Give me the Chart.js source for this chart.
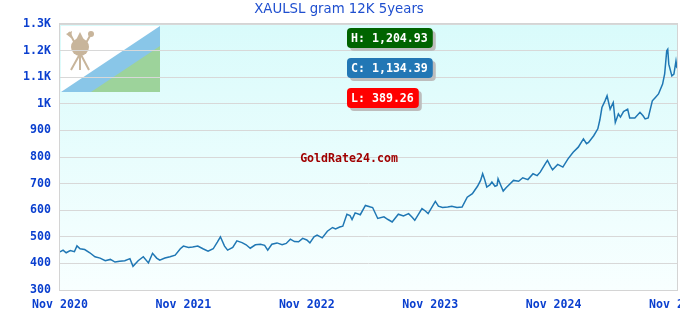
<!DOCTYPE html>
<html lang="en">
<head>
<meta charset="UTF-8">
<title>XAULSL gram 12K 5years</title>
<style>
  *{box-sizing:border-box;margin:0;padding:0}
  body{background:#fff;width:680px;height:320px;overflow:hidden}
  #wrap{position:relative;width:680px;height:320px}
</style>
</head>
<body>
<div id="wrap"><canvas id="chart" width="680" height="320"></canvas></div>

<script src="https://cdn.jsdelivr.net/npm/chart.js@4.4.0"></script>
<script>
/* x = months since Nov 2020 */
const months=[0,0.3,0.6,1.0,1.4,1.65,1.95,2.4,2.9,3.4,3.9,4.4,4.9,5.35,5.8,6.3,6.8,7.1,7.6,8.1,8.6,9.0,9.4,9.7,10.2,10.7,11.2,11.7,12.0,12.5,12.9,13.4,13.9,14.4,14.9,15.3,15.6,16.0,16.3,16.8,17.2,17.7,18.1,18.5,19.0,19.5,19.9,20.2,20.6,21.1,21.6,22.0,22.4,22.8,23.2,23.6,24.0,24.3,24.7,25.0,25.5,26.0,26.5,26.8,27.2,27.5,27.9,28.2,28.4,28.7,29.2,29.7,30.2,30.4,30.9,31.5,31.9,32.3,32.9,33.4,33.9,34.2,34.5,35.2,35.5,35.8,36.5,36.8,37.2,37.7,38.1,38.6,39.1,39.6,40.1,40.6,40.9,41.1,41.3,41.5,41.8,42.0,42.3,42.5,42.6,42.9,43.1,43.4,43.6,44.1,44.6,45.0,45.5,46.0,46.4,46.7,47.2,47.4,47.7,47.9,48.4,48.9,49.4,49.9,50.4,50.9,51.2,51.4,51.9,52.3,52.5,52.7,53.0,53.2,53.5,53.8,54.0,54.3,54.5,54.8,55.2,55.4,55.9,56.4,56.7,56.9,57.2,57.6,57.9,58.2,58.6,58.8,59.0,59.1,59.2,59.5,59.7,59.9,60.0];
const prices=[443,450,440,448,444,466,455,452,440,425,420,410,415,405,408,410,418,389,410,425,402,438,420,412,420,425,431,455,465,460,462,465,455,446,455,480,500,465,450,460,485,478,470,457,470,472,468,450,472,477,470,475,491,482,481,494,488,477,500,506,496,521,535,530,537,540,585,580,565,590,583,618,612,610,569,575,565,556,585,578,587,575,562,606,598,587,633,615,610,612,615,610,612,649,662,690,712,737,715,687,695,706,690,693,718,690,672,685,693,712,709,722,715,737,730,743,775,787,765,752,772,762,793,818,837,868,850,855,880,906,940,986,1011,1030,980,1005,930,962,950,971,980,947,947,968,955,943,947,1011,1024,1037,1074,1112,1199,1205,1149,1105,1112,1161,1134];

const tickLabels=["Nov 2020","Nov 2021","Nov 2022","Nov 2023","Nov 2024","Nov 2025"];
const yTicks=[300,400,500,600,700,800,900,1000,1100,1200,1300];
const titleText="XAULSL gram 12K 5years";
const badges=[["H: 1,204.93","#006400"],["C: 1,134.39","#2277b5"],["L: 389.26","#ff0000"]];
const brand="GoldRate24.com";

const mono="bold 11.6px 'DejaVu Sans Mono', monospace";

function roundRect(ctx,x,y,w,h,r){
  ctx.beginPath();
  ctx.moveTo(x+r,y);ctx.lineTo(x+w-r,y);ctx.quadraticCurveTo(x+w,y,x+w,y+r);
  ctx.lineTo(x+w,y+h-r);ctx.quadraticCurveTo(x+w,y+h,x+w-r,y+h);
  ctx.lineTo(x+r,y+h);ctx.quadraticCurveTo(x,y+h,x,y+h-r);
  ctx.lineTo(x,y+r);ctx.quadraticCurveTo(x,y,x+r,y);ctx.closePath();
}

const backdrop={
  id:'backdrop',
  beforeDraw(chart){
    const {ctx,chartArea:a}=chart;
    ctx.save();
    const g=ctx.createLinearGradient(0,a.top,0,a.bottom);
    g.addColorStop(0,'#d9fbfb');g.addColorStop(1,'#f8ffff');
    ctx.fillStyle=g;ctx.fillRect(a.left,a.top,a.right-a.left,a.bottom-a.top);
    // flag
    const fx=a.left+1,fy=a.top+2,fw=99,fh=66;
    ctx.fillStyle='#fff';ctx.fillRect(fx,fy,fw,fh);
    ctx.fillStyle='#89c6e8';
    ctx.beginPath();ctx.moveTo(fx,fy+fh);ctx.lineTo(fx+fw,fy);ctx.lineTo(fx+fw,fy+fh);ctx.closePath();ctx.fill();
    ctx.fillStyle='#9dd39b';
    ctx.beginPath();ctx.moveTo(fx+30,fy+fh);ctx.lineTo(fx+fw,fy+20);ctx.lineTo(fx+fw,fy+fh);ctx.closePath();ctx.fill();
    // emblem
    ctx.fillStyle='#c8b59b';ctx.strokeStyle='#c8b59b';ctx.lineWidth=2;
    ctx.beginPath();ctx.arc(fx+19,fy+21,9,0,Math.PI*2);ctx.fill();
    ctx.beginPath();ctx.moveTo(fx+19,fy+6);ctx.lineTo(fx+14,fy+16);ctx.lineTo(fx+24,fy+16);ctx.closePath();ctx.fill();
    ctx.beginPath();
    ctx.moveTo(fx+8,fy+6);ctx.lineTo(fx+28,fy+44);
    ctx.moveTo(fx+30,fy+8);ctx.lineTo(fx+10,fy+44);
    ctx.moveTo(fx+19,fy+28);ctx.lineTo(fx+19,fy+44);
    ctx.stroke();
    ctx.beginPath();ctx.moveTo(fx+5,fy+8);ctx.lineTo(fx+11,fy+5);ctx.lineTo(fx+10,fy+12);ctx.closePath();ctx.fill();
    ctx.beginPath();ctx.arc(fx+30,fy+8,3,0,Math.PI*2);ctx.fill();
    ctx.restore();
  },
  afterDraw(chart){
    const {ctx,chartArea:a}=chart;
    ctx.save();
    ctx.strokeStyle='#d4d4d4';ctx.lineWidth=1;
    ctx.strokeRect(a.left-0.5,a.top-0.5,a.right-a.left+1,a.bottom-a.top+1);
    // title
    ctx.fillStyle='#1f4fcf';ctx.font="13.3px 'DejaVu Sans', sans-serif";
    ctx.textAlign='center';ctx.textBaseline='middle';
    ctx.fillText(titleText,339,10);
    // badges
    ctx.font=mono;ctx.textAlign='left';
    badges.forEach((b,i)=>{
      const x=a.left+287,y=a.top+4+i*30,w=ctx.measureText(b[0]).width+9,h=20;
      ctx.fillStyle='#bdbdbd';roundRect(ctx,x+3,y+3,w,h,4);ctx.fill();
      ctx.fillStyle=b[1];roundRect(ctx,x,y,w,h,4);ctx.fill();
      ctx.fillStyle='#fff';ctx.fillText(b[0],x+4,y+h/2+1);
    });
    ctx.fillStyle='#a00000';ctx.textAlign='center';
    ctx.fillText(brand,a.left+289,a.top+135);
    ctx.restore();
  }
};

new Chart(document.getElementById('chart'),{
  type:'line',
  data:{datasets:[{data:months.map((m,i)=>({x:m,y:prices[i]})),
    borderColor:'#1f77b4',borderWidth:1.5,pointRadius:0,tension:0,fill:false}]},
  options:{
    responsive:false,animation:false,
    layout:{padding:{top:24,right:3,left:0,bottom:0}},
    plugins:{legend:{display:false},tooltip:{enabled:false},title:{display:false}},
    scales:{
      x:{type:'linear',min:0,max:60,
        afterBuildTicks(s){s.ticks=tickLabels.map((t,i)=>({value:i*12}));},
        ticks:{callback:(v)=>tickLabels[v/12],color:'#0a3fcf',font:{family:"'DejaVu Sans Mono', monospace",size:11.6,weight:'bold'},maxRotation:0,padding:8,autoSkip:false},
        grid:{display:false,drawTicks:false},border:{display:false},
        afterFit(s){s.height=30;s.paddingLeft=0;s.paddingRight=0;}},
      y:{min:300,max:1300,
        afterBuildTicks(s){s.ticks=yTicks.map(v=>({value:v}));},
        ticks:{callback:(v)=>v>=1000?(v/1000)+'K':v,color:'#0a3fcf',font:{family:"'DejaVu Sans Mono', monospace",size:11.6,weight:'bold'},padding:9},
        grid:{color:'#d8d8d8',drawTicks:false},border:{display:false},
        afterFit(s){s.width=60;}}
    }
  },
  plugins:[backdrop]
});
</script>
</body>
</html>
